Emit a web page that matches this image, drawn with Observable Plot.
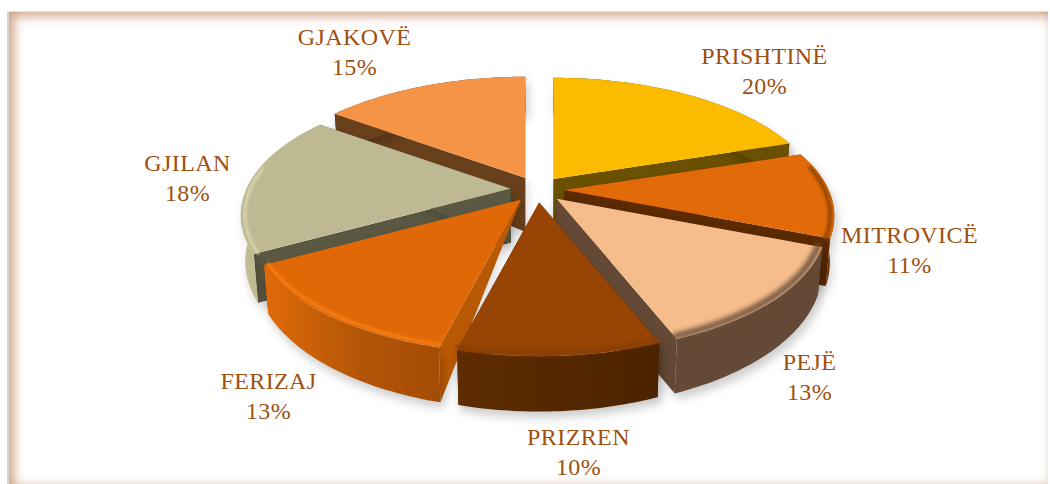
<!DOCTYPE html>
<html><head><meta charset="utf-8">
<script src="https://cdn.jsdelivr.net/npm/d3@7"></script>
<script src="https://cdn.jsdelivr.net/npm/@observablehq/plot@0.6"></script>
<style>
html,body{margin:0;padding:0;background:#fff;width:1050px;height:484px;overflow:hidden}
#frame{position:absolute;left:7px;top:11px;width:1041px;height:473px;box-sizing:border-box;border-left:2px solid #d9d6d3;border-top:1px solid #e4dfdb;
box-shadow:inset 9px 8px 11px -4px rgba(188,128,88,.72), inset -4px -5px 7px -3px rgba(190,150,120,.35)}
#chart{position:absolute;left:0;top:0}
#chart svg{background:transparent}
#chart text{letter-spacing:.4px}
</style></head><body>
<div id="frame"></div><div id="chart"></div>
<script>
const places = ["PRISHTINË","MITROVICË","PEJË","PRIZREN","FERIZAJ","GJILAN","GJAKOVË"];
const shares = [20,11,13,10,13,18,15];

const topColors  = ["#fbbc00","#e26a08","#f6bd8c","#974405","#e16807","#bfb993","#f59446"];
const sideColors = ["#6a5000","#5c2a00","#644a36","#532600","#b85905","#5a5742","#69401c"];
const rimColors  = [null,"#8f4500","#6a4f3a","#8a3f06","#f57f14","#d9d4aa",null];
const rimWidths  = [0,4,6,5,3,3,0];
const rimBlurs   = [0,1.6,2.4,1.8,0.8,0.8,0];
const wallFills  = ["#6a5000","#6b3200","#644a36","url(#wallPrizren)","url(#wallFerizaj)","url(#wallGjilan)","#69401c"];
const labelSpots = [[764,69],[909,248],[809,375],[578,450],[268,394],[187,176],[354,50]];
const paintOrder = [6,0,5,1,4,2,3];
const taperedSlice = places.indexOf("FERIZAJ");

const cx=537, cy=189, A=264, B=122, b=0.206, D=44, apexDepth=54, k=0.985;
const arcs = d3.pie().sort(null).startAngle(0).endAngle(2*Math.PI)(shares);

function at(i,t,r=1){
  const a=arcs[i], m=(a.startAngle+a.endAngle)/2;
  const ax=cx+27*Math.sin(m), ay=cy-13*Math.cos(m);
  const f=1/(1+b*r*Math.cos(t));
  const x=ax+A*r*Math.sin(t)*f, y=ay-B*r*Math.cos(t)*f;
  return {x,y,bx:cx+(x-cx)*k,by:y+(r?D*f:apexDepth)};
}
const sweep=(i,r=1)=>{const a=arcs[i];return d3.range(0,41).map(s=>at(i,a.startAngle+(a.endAngle-a.startAngle)*s/40,r));};
const lower=p=>({x:p.bx,y:p.by});
const poly=(pts,fill,extra={})=>Plot.line(pts,{x:"x",y:"y",fill,stroke:"none",...extra});

const marks=[];
for(const i of paintOrder){
  const a=arcs[i], arc=sweep(i), apex=at(i,0,0);
  const wall=[...arc.map(p=>({x:p.x,y:p.y})),...arc.slice().reverse().map(lower)];
  for(const e of [arc[0],arc[arc.length-1]]){
    const face=[{x:apex.x,y:apex.y},{x:e.x,y:e.y},lower(e)];
    if(i!==taperedSlice) face.push(lower(apex));
    marks.push(poly(face,sideColors[i],{imageFilter:"drop-shadow(2px 5px 5px rgba(0,0,0,.14))"}));
  }
  marks.push(poly(wall,wallFills[i],{imageFilter:"drop-shadow(3px 6px 5px rgba(0,0,0,.2))"}));
  marks.push(poly([{x:apex.x,y:apex.y},...arc],topColors[i]));
  if(rimColors[i]){
    const rim=sweep(i,0.985).filter((p,s)=>Math.cos(a.startAngle+(a.endAngle-a.startAngle)*s/40)<0.2);
    marks.push(Plot.line(rim,{x:"x",y:"y",stroke:rimColors[i],strokeWidth:rimWidths[i],imageFilter:`blur(${rimBlurs[i]}px)`}));
  }
}
const labels=places.map((p,i)=>({text:p+"\n"+shares[i]+"%",x:labelSpots[i][0],y:labelSpots[i][1]}));
marks.push(Plot.text(labels,{x:"x",y:"y",text:"text",fill:"#a0500f",fontSize:24,lineHeight:1.25}));

const plot=Plot.plot({
  width:1050,height:484,margin:0,
  x:{domain:[0,1050],range:[0,1050],axis:null},
  y:{domain:[0,484],range:[0,484],axis:null},
  style:{fontFamily:"'Liberation Serif',serif",background:"transparent"},
  marks
});
const defs=d3.select(plot).insert("defs",":first-child");
const grad=(id,stops)=>{const g=defs.append("linearGradient").attr("id",id).attr("x1",0).attr("x2",1).attr("y1",0).attr("y2",0);
  stops.forEach(([o,c])=>g.append("stop").attr("offset",o).attr("stop-color",c));};
grad("wallPrizren",[[0,"#5e2c00"],[1,"#4a2300"]]);
grad("wallFerizaj",[[0,"#e06a0a"],[0.55,"#b35506"],[1,"#a34c05"]]);
grad("wallGjilan",[[0,"#c4be95"],[1,"#a8a47f"]]);
document.getElementById("chart").appendChild(plot);
</script>
</body></html>
